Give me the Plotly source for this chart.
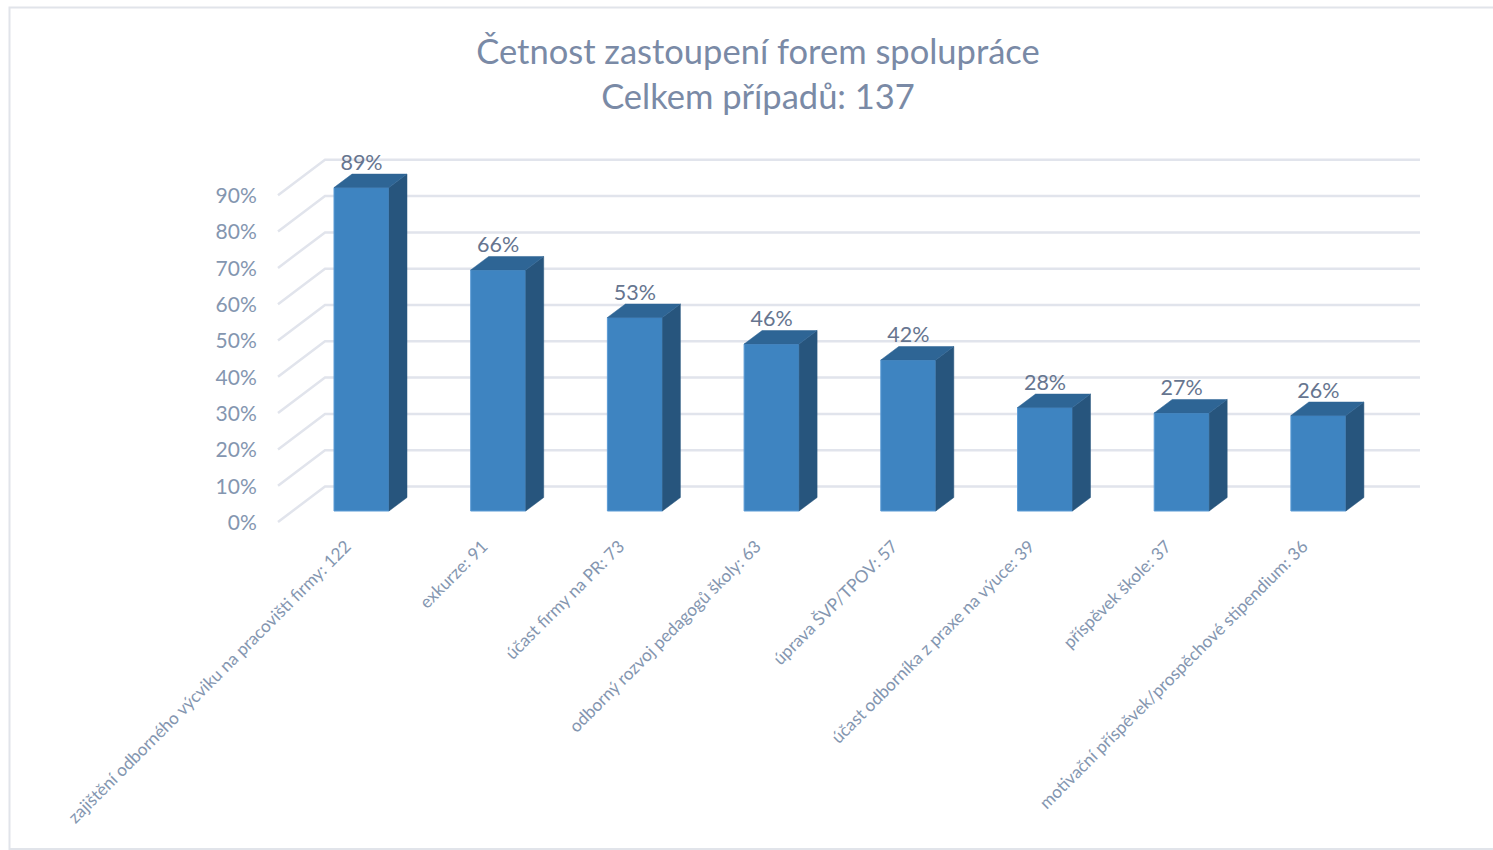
import plotly.graph_objects as go

categories = [
    "zajištění odborného výcviku na pracovišti firmy: 122",
    "exkurze: 91",
    "účast firmy na PR: 73",
    "odborný rozvoj pedagogů školy: 63",
    "úprava ŠVP/TPOV: 57",
    "účast odborníka z praxe na výuce: 39",
    "příspěvek škole: 37",
    "motivační příspěvek/prospěchové stipendium: 36",
]
values = [89.1, 66.4, 53.3, 46.0, 41.6, 28.5, 27.0, 26.3]
value_labels = ["89%", "66%", "53%", "46%", "42%", "28%", "27%", "26%"]
axis_values = [0, 10, 20, 30, 40, 50, 60, 70, 80, 90]
title_lines = ["Četnost zastoupení forem spolupráce", "Celkem případů: 137"]

W, H = 1493, 850
FONT = "Lato"
C_FRONT, C_EDGE, C_TOP, C_SIDE = "#3E84C1", "#5B9BD5", "#2E6595", "#27557D"
C_GRID, C_TICK, C_LABEL, C_TITLE = "#E1E4EC", "#8496B0", "#66758F", "#7A8AA6"

# scale of the drawing: px per category and px per percent
PX_CAT, PX_PCT = 136.7, 3.63
X0_PX, Y0_PX = 361.5, 511.0       # centre of first bar, baseline of bars
L, R, T, B = 265, 1440, 120, 532  # plot rectangle in px
BAR_W = 55 / PX_CAT
DX_BAR, DY_BAR = 18 / PX_CAT, 13.5 / PX_PCT      # depth of a bar
WALL_FX, WALL_FY = (278 - X0_PX) / PX_CAT, (Y0_PX - 522) / PX_PCT   # front end of gridline
WALL_BX, WALL_BY = (325 - X0_PX) / PX_CAT, (Y0_PX - 486.5) / PX_PCT   # back corner of gridline
WALL_RX = (1420 - X0_PX) / PX_CAT
LABEL_GAP = 23 / PX_PCT
TICK_SHIFT = -15.5 / PX_CAT
YTICK_SHIFT = -0.5 / PX_PCT

fig = go.Figure()

# front faces
fig.add_trace(go.Bar(
    x=list(range(len(values))), y=values, width=BAR_W,
    marker=dict(color=C_FRONT, line=dict(color=C_EDGE, width=1)),
    hoverinfo="skip", showlegend=False,
))

# side and top faces
for i, v in enumerate(values):
    xl, xr = i - BAR_W / 2, i + BAR_W / 2
    fig.add_trace(go.Scatter(
        x=[xr, xr + DX_BAR, xr + DX_BAR, xr, xr], y=[0, DY_BAR, v + DY_BAR, v, 0],
        mode="lines", fill="toself", fillcolor=C_SIDE, line=dict(color=C_SIDE, width=0.5),
        hoverinfo="skip", showlegend=False,
    ))
    fig.add_trace(go.Scatter(
        x=[xl, xl + DX_BAR, xr + DX_BAR, xr, xl], y=[v, v + DY_BAR, v + DY_BAR, v, v],
        mode="lines", fill="toself", fillcolor=C_TOP, line=dict(color=C_TOP, width=0.5),
        hoverinfo="skip", showlegend=False,
    ))

# value labels
fig.add_trace(go.Scatter(
    x=list(range(len(values))), y=[v + LABEL_GAP for v in values],
    text=value_labels, mode="text", textposition="middle center",
    textfont=dict(family=FONT, size=21.5, color=C_LABEL),
    hoverinfo="skip", showlegend=False,
))

# walls: gridlines beneath the bars
shapes = []
for v in axis_values:
    shapes.append(dict(
        type="path", layer="below", xref="x", yref="y",
        path=f"M {WALL_FX} {v + WALL_FY} L {WALL_BX} {v + WALL_BY} L {WALL_RX} {v + WALL_BY}",
        line=dict(color=C_GRID, width=2.5),
    ))
# outer frame of the picture (paper coordinates are relative to the plot rectangle)
shapes.append(dict(
    type="rect", layer="below", xref="paper", yref="paper",
    x0=(9.5 - L) / (R - L), x1=(W + 10 - L) / (R - L),
    y0=(B - 849) / (B - T), y1=(B - 7.5) / (B - T),
    line=dict(color="#E1E4EA", width=2),
))

fig.update_layout(
    width=W, height=H, autosize=False,
    margin=dict(l=L, r=W - R, t=T, b=H - B, pad=0),
    paper_bgcolor="white", plot_bgcolor="rgba(0,0,0,0)",
    font=dict(family=FONT),
    showlegend=False,
    shapes=shapes,
    title=dict(
        text="<br>".join(title_lines),
        x=758 / W, xanchor="center", xref="container",
        y=1 - 64 / H, yanchor="top", yref="container",
        font=dict(family=FONT, size=34.5, color=C_TITLE),
    ),
    xaxis=dict(
        range=[(L - X0_PX) / PX_CAT, (R - X0_PX) / PX_CAT],
        tickmode="array", tickvals=[i + TICK_SHIFT for i in range(len(categories))], ticktext=categories,
        tickangle=-45, tickfont=dict(family=FONT, size=17.2, color=C_TICK),
        showgrid=False, zeroline=False, showline=False, ticks="",
    ),
    yaxis=dict(
        range=[(Y0_PX - B) / PX_PCT, (Y0_PX - T) / PX_PCT],
        tickmode="array", tickvals=[v + WALL_FY + YTICK_SHIFT for v in axis_values],
        ticktext=[f"{v}%" for v in axis_values],
        tickfont=dict(family=FONT, size=21, color=C_TICK),
        showgrid=False, zeroline=False, showline=False,
        ticks="outside", ticklen=3, tickcolor="rgba(0,0,0,0)",
    ),
)

fig.write_html("out.html", config=dict(displayModeBar=False),
               post_script="document.body.style.margin='0';document.body.style.overflow='hidden';")
